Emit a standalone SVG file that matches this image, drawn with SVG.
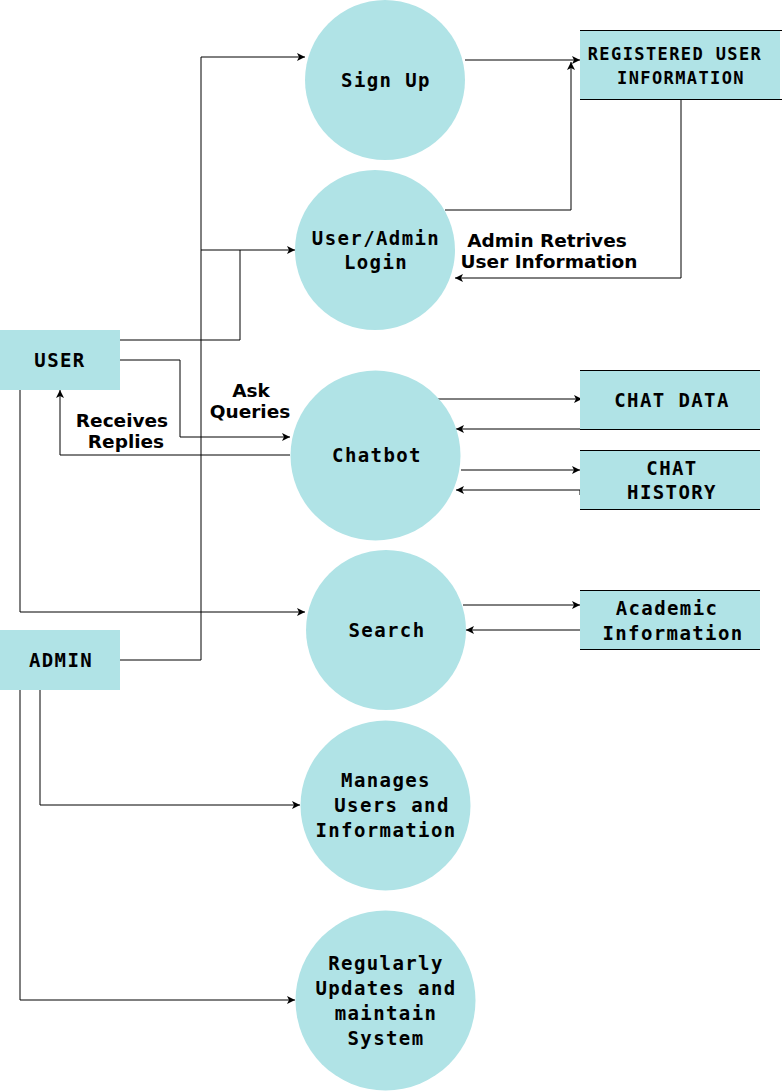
<svg xmlns="http://www.w3.org/2000/svg" width="782" height="1091" viewBox="0 0 782 1091">
<style>
.p{fill:#b0e3e6;stroke:none}
.ds{fill:#b0e3e6;stroke:none}
.dl{stroke:#000;stroke-width:1;fill:none}
.t{font-family:"DejaVu Sans Mono","Liberation Mono",monospace;font-weight:bold;font-size:19px;letter-spacing:1.4px;fill:#000;text-anchor:middle}
.ts{font-size:17px;letter-spacing:1.4px}
.lb{font-family:"DejaVu Sans","Liberation Sans",sans-serif;font-weight:bold;font-size:18.5px;fill:#000;text-anchor:middle}
.c{stroke:#000;stroke-width:1;fill:none;marker-end:url(#a)}
.cn{stroke:#000;stroke-width:1;fill:none}
</style>
<defs>
<marker id="a" markerWidth="10" markerHeight="8" refX="8" refY="4" orient="auto" markerUnits="userSpaceOnUse">
<path d="M0,0 L8,4 L0,8 L2,4 Z" fill="#000"/>
</marker>
</defs>
<rect width="782" height="1091" fill="#fff"/>
<g id="connectors">
<path class="c" d="M465,60 H580"/>
<path class="c" d="M445,210 H571 V62"/>
<path class="c" d="M681,100 V278 H455"/>
<path class="c" d="M120,660 H201 V57 H305"/>
<path class="c" d="M201,250 H295"/>
<path class="cn" d="M120,340 H240 V250"/>
<path class="c" d="M120,360 H180 V437 H290"/>
<path class="c" d="M290,455 H60 V390"/>
<path class="c" d="M20,390 V612 H305"/>
<path class="c" d="M40,690 V805 H300"/>
<path class="c" d="M20,690 V1000 H295"/>
<path class="c" d="M435,399 H582"/>
<path class="c" d="M580,429 H456"/>
<path class="c" d="M461,470 H580"/>
<path class="c" d="M580,495 V490 H456"/>
<path class="c" d="M463,605 H580"/>
<path class="c" d="M580,630 H466"/>
</g>
<g id="signup">
<circle class="p" cx="385" cy="80" r="80"/>
<text class="t" x="386" y="87">Sign Up</text>
</g>
<g id="login">
<circle class="p" cx="375" cy="250" r="80"/>
<text class="t" x="376" y="245">User/Admin</text>
<text class="t" x="376" y="269">Login</text>
</g>
<g id="chatbot">
<ellipse class="p" cx="375.5" cy="455.5" rx="85" ry="85"/>
<text class="t" x="377" y="462">Chatbot</text>
</g>
<g id="search">
<circle class="p" cx="386" cy="630" r="80"/>
<text class="t" x="387" y="637">Search</text>
</g>
<g id="manages">
<ellipse class="p" cx="385.5" cy="805.5" rx="85" ry="85"/>
<text class="t" x="386" y="787">Manages</text>
<text class="t" x="392" y="812">Users and</text>
<text class="t" x="386" y="837">Information</text>
</g>
<g id="regularly">
<ellipse class="p" cx="385.5" cy="1000.5" rx="90" ry="90"/>
<text class="t" x="386" y="970">Regularly</text>
<text class="t" x="386" y="995">Updates and</text>
<text class="t" x="386" y="1020">maintain</text>
<text class="t" x="386" y="1045">System</text>
</g>
<g id="registered">
<rect class="ds" x="580" y="30" width="200" height="70"/>
<path class="dl" d="M580,30.5 H782 M580,99.5 H782"/>
<text class="t ts" x="675" y="60">REGISTERED USER</text>
<text class="t ts" x="681" y="84">INFORMATION</text>
</g>
<g id="chatdata">
<rect class="ds" x="580" y="370" width="180" height="60"/>
<path class="dl" d="M580,370.5 H760 M580,429.5 H760"/>
<text class="t" x="672" y="407">CHAT DATA</text>
</g>
<g id="chathistory">
<rect class="ds" x="580" y="450" width="180" height="60"/>
<path class="dl" d="M580,450.5 H760 M580,509.5 H760"/>
<text class="t" x="672" y="475">CHAT</text>
<text class="t" x="672" y="499">HISTORY</text>
</g>
<g id="academic">
<rect class="ds" x="580" y="590" width="180" height="60"/>
<path class="dl" d="M580,590.5 H760 M580,649.5 H760"/>
<text class="t" x="667" y="615">Academic</text>
<text class="t" x="673" y="640">Information</text>
</g>
<g id="user">
<rect class="p" x="0" y="330" width="120" height="60"/>
<text class="t" x="60" y="367">USER</text>
</g>
<g id="admin">
<rect class="p" x="0" y="630" width="120" height="60"/>
<text class="t" x="61" y="667">ADMIN</text>
</g>
<g id="labels">
<text class="lb" x="547" y="247">Admin Retrives</text>
<text class="lb" x="549" y="268">User Information</text>
<text class="lb" x="251" y="397">Ask</text>
<text class="lb" x="250" y="418">Queries</text>
<text class="lb" x="122" y="427">Receives</text>
<text class="lb" x="126" y="448">Replies</text>
</g>
</svg>
